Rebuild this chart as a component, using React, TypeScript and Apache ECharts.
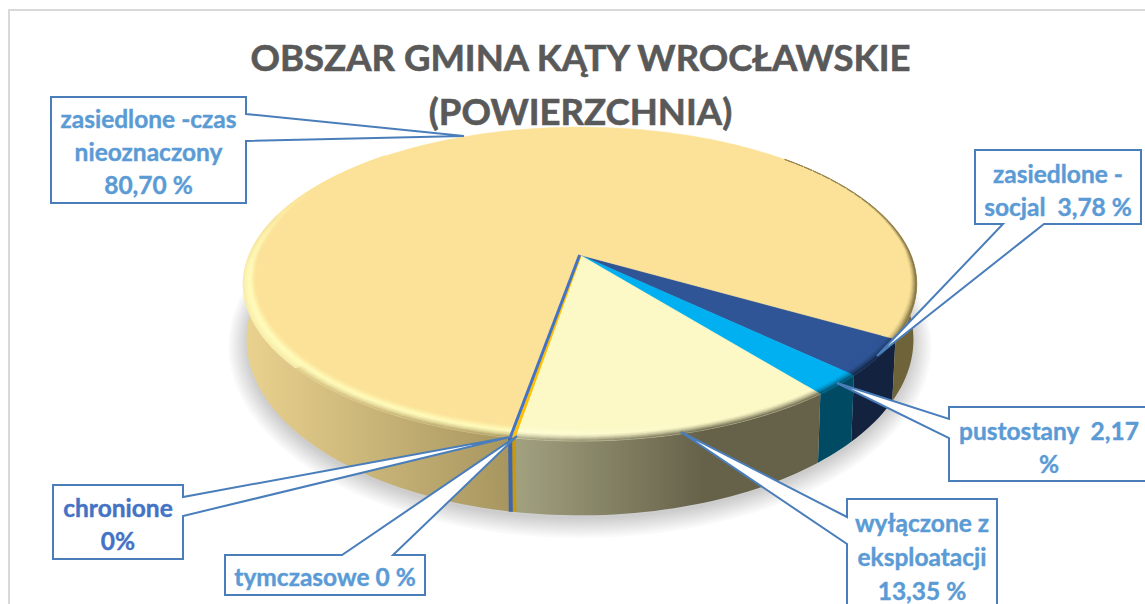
import React, { useEffect, useRef } from "react";
import * as echarts from "echarts";

// ---- data (clockwise from the first slice) ----
const categories = [
  "zasiedlone - socjal",
  "pustostany",
  "wyłączone z eksploatacji",
  "tymczasowe",
  "chronione",
  "zasiedlone - czas nieoznaczony",
];
const values = [3.78, 2.17, 13.35, 0, 0, 80.7];
const titleLines = ["OBSZAR GMINA KĄTY WROCŁAWSKIE", "(POWIERZCHNIA)"];
const calloutTexts = [
  ["zasiedlone -czas", "nieoznaczony", "80,70 %"],
  ["zasiedlone -", "socjal  3,78 %"],
  ["pustostany  2,17", "%"],
  ["wyłączone z", "eksploatacji", "13,35 %"],
  ["chronione", "0%"],
  ["tymczasowe 0 %"],
];

// ---- palette ----
const topColors = ["#2F5597", "#00B0F0", "#FCF9C7", "#FFC000", "#4472C4", "#FBE298"];
const wallFrom = ["#13233F", "#004A64", "#A3A280", "#C8980F", "#3D66AC", "#EAD28F"];
const wallTo = ["#13233F", "#004A64", "#66624A", "#C8980F", "#3D66AC", "#A6955F"];
const calloutColors = ["#5B9BD5", "#5B9BD5", "#5B9BD5", "#5B9BD5", "#4472C4", "#5B9BD5"];
const highlightColor = ["#2F5597", "#00B0F0", "#FFFFDC", "#FFC000", "#4472C4", "#FFFDBE"];

// ---- projection of the tilted disc ----
const CX = 580, CY = 255;
const P = 0.185, B = 151.6, K = 331;
const DROP = 52, SY = 1.12, SX = 0.99;
const FIRST_ANGLE = 120.2;
const FONT = "Lato, Carlito, sans-serif";

const rad = (d: number) => (d * Math.PI) / 180;
function top(theta: number, r = 1): [number, number] {
  const x = r * Math.sin(rad(theta));
  const y = -r * Math.cos(rad(theta));
  const d = 1 - P * y;
  return [CX + (K * x) / d, CY + (B * y) / d];
}
function bottom(theta: number): [number, number] {
  const [X, Y] = top(theta);
  return [CX + (X - CX) * SX, CY + DROP + (Y - CY) * SY];
}
function hexRgb(h: string) {
  return [parseInt(h.slice(1, 3), 16), parseInt(h.slice(3, 5), 16), parseInt(h.slice(5, 7), 16)];
}
function mix(a: string, b: string, t: number) {
  const A = hexRgb(a), C = hexRgb(b);
  const u = Math.max(0, Math.min(1, t));
  const v = A.map((c, i) => Math.round(c + (C[i] - c) * u));
  return "#" + v.map((c) => c.toString(16).padStart(2, "0")).join("");
}

// slice angle ranges derived from the values
const ranges: [number, number][] = [];
values.reduce((acc, v) => {
  const a = FIRST_ANGLE + acc * 3.6;
  ranges.push([a, a + v * 3.6]);
  return acc + v;
}, 0);

function arcSamples(a: number, b: number, step: number) {
  const out: number[] = [];
  const n = Math.max(1, Math.ceil((b - a) / step));
  for (let i = 0; i <= n; i++) out.push(a + ((b - a) * i) / n);
  return out;
}
function wallPolygon(a: number, b: number) {
  const s = arcSamples(a, b, 1.5);
  return [...s.map((t) => top(t)), ...s.slice().reverse().map((t) => bottom(t))];
}
function visibleRanges(i: number): [number, number][] {
  const [a, b] = ranges[i];
  if (b > 360) return [[a, 295], [425, b]];
  return [[a, b]];
}
const WALL_END = [1, 1, 0.62, 1, 1, 1];
function wallColorAt(i: number, X: number, x0: number, x1: number, theta: number) {
  if (i === 5 && (theta > 360 || theta < 120.7)) return "#6F6339";
  if (i === 5 && theta > 285) return topColors[5];
  return mix(wallFrom[i], wallTo[i], (X - x0) / ((x1 - x0) * WALL_END[i] || 1));
}

const SHADOW_LAYERS = [18, 16, 14, 12, 10, 8, 6, 4, 2, 0];
const renderShadow = () => {
  const s = arcSamples(0, 360, 3);
  const base = CY + DROP;
  return {
    type: "group",
    children: SHADOW_LAYERS.map((e) => ({
      type: "polygon",
      shape: {
        points: s.map((t) => {
          const [X, Y] = bottom(t);
          return [CX + (X - CX) * (1 + e / 330), base + (Y - base) * (1 + e / 200) + 4];
        }),
      },
      style: { fill: "rgba(0,0,0,0.018)", stroke: "none" },
    })),
  };
};

const renderWall = (params: any) => {
  const i = params.dataIndex;
  if (values[i] === 0) return { type: "group", children: [] };
  const children = visibleRanges(i).map(([a, b]) => {
    const ends = arcSamples(a, b, 2).map((t) => top(t)[0]);
    const x0 = Math.min(...ends), x1 = Math.max(...ends);
    const isRight = i === 5 && a > 360;
    const fill = isRight
      ? "#6F6339"
      : new echarts.graphic.LinearGradient(
          x0, 0, x1 + 0.01, 0,
          [
            { offset: 0, color: wallFrom[i] },
            { offset: WALL_END[i], color: wallTo[i] },
            { offset: 1, color: wallTo[i] },
          ],
          true
        );
    return {
      type: "polygon",
      shape: { points: wallPolygon(a, b) },
      style: { fill, stroke: "none" },
    };
  });
  return { type: "group", children };
};

const renderTop = (params: any) => {
  const i = params.dataIndex;
  if (values[i] === 0) return { type: "group", children: [] };
  const [a, b] = ranges[i];
  const pts = [[CX, CY], ...arcSamples(a, b, 1).map((t) => top(t))];
  return {
    type: "polygon",
    shape: { points: pts },
    style: { fill: topColors[i], stroke: topColors[i], lineWidth: 0.4 },
  };
};

const RINGS = 8;
function bevelWidth(theta: number) {
  const y = -Math.cos(rad(theta));
  if (y >= 0) return 0.03 + 0.025 * y;
  const f = Math.max(0, Math.min(1, (y + 0.75) / 0.6));
  const right = Math.sin(rad(theta)) > 0;
  return (right ? 0.024 : 0.03) * f;
}
function highlightAt(i: number, X: number) {
  if (i === 5) return X < 560 ? 0.95 : 0;
  if (i === 2) return Math.max(0, Math.min(1, (700 - X) / 180)) * 0.7;
  return 0;
}

const renderBevel = (params: any) => {
  const i = params.dataIndex;
  const children: any[] = [];
  if (values[i] === 0) return { type: "group", children };
  const vis = visibleRanges(i);
  const [ra, rb] = ranges[i];
  const pieces: [number, number][] = i === 5 ? [[ra, 340], [380, rb]] : [[ra, rb]];
  const wallX = arcSamples(vis[0][0], vis[0][1], 2).map((t) => top(t)[0]);
  const x0 = Math.min(...wallX), x1 = Math.max(...wallX);
  pieces.forEach(([a, b]) => {
    const s = arcSamples(a, b, 2.5);
    for (let k = 0; k < s.length - 1; k++) {
      const t0 = s[k], t1 = s[k + 1];
      const tm = (t0 + t1) / 2;
      const w0 = bevelWidth(t0), w1 = bevelWidth(t1), wm = bevelWidth(tm);
      if (wm <= 0.001) continue;
      const Xm = top(tm)[0];
      const side = wallColorAt(i, Xm, x0, x1, tm);
      const fadeBack = i === 5 && tm > 265 && tm < 360 ? Math.max(0, 1 - (tm - 265) / 35) : 1;
      const peak = mix(topColors[i], highlightColor[i], highlightAt(i, Xm) * fadeBack);
      const outer = i === 5 && tm > 230 && tm < 360 ? mix(peak, side, 0.35) : side;
      for (let r = 0; r < RINGS; r++) {
        const f0 = r / RINGS, f1 = (r + 1) / RINGS, f = (r + 0.5) / RINGS;
        const PEAK = 0.45;
        const color =
          f < PEAK
            ? mix(topColors[i], peak, f / PEAK)
            : mix(peak, outer, Math.pow((f - PEAK) / (1 - PEAK), 1.4));
        const pts = [
          top(t0, 1 - w0 * (1 - f0)),
          top(t1, 1 - w1 * (1 - f0)),
          top(t1, 1 - w1 * (1 - f1)),
          top(t0, 1 - w0 * (1 - f1)),
        ];
        children.push({
          type: "polygon",
          shape: { points: pts },
          style: { fill: color, stroke: color, lineWidth: 0.5 },
        });
      }
    }
  });
  return { type: "group", children };
};

// a zero-valued slice only shows its border: a stripe on the top face and on the wall
const renderZeroStripes = (params: any) => {
  const i = params.dataIndex;
  if (values[i] !== 0) return { type: "group", children: [] };
  const off = categories[i] === "tymczasowe" ? 1.8 : -1.8;
  const end = top(ranges[i][0], 1);
  const low = bottom(ranges[i][0]);
  return {
    type: "group",
    children: [
      {
        type: "line",
        shape: { x1: end[0] + off, y1: end[1], x2: low[0] + off, y2: low[1] },
        style: { stroke: wallFrom[i], lineWidth: 4 },
      },
      {
        type: "line",
        shape: { x1: CX + off * 0.2, y1: CY, x2: end[0] + off, y2: end[1] },
        style: { stroke: topColors[i], lineWidth: 3 },
      },
    ],
  };
};

// ---- callout layout: [left, top, right, bottom], wedge base points, tip ----
const calloutBoxes = [
  [51, 97, 246, 203],
  [975, 150, 1141, 224],
  [949, 407, 1160, 481],
  [847, 499, 997, 620],
  [53, 485, 183, 559],
  [225, 555, 425, 595],
];
const calloutWedges = [
  { side: "right", a: 114, b: 141, tip: [464, 136] },
  { side: "bottom", a: 1003, b: 1044, tip: [877, 356] },
  { side: "left", a: 419, b: 438, tip: [837, 383] },
  { side: "left", a: 517, b: 544, tip: [681, 432] },
  { side: "right", a: 497, b: 516, tip: [510, 437] },
  { side: "top", a: 342, b: 393, tip: [517, 436] },
];
const calloutTextY = [118, 173, 430, 522, 507, 576];
const LINE_H = [33, 33, 33, 34, 33, 33];

function calloutPoints(i: number) {
  const [l, t, r, b] = calloutBoxes[i];
  const w = calloutWedges[i];
  const tip = w.tip;
  if (w.side === "right")
    return [[l, t], [r, t], [r, w.a], tip, [r, w.b], [r, b], [l, b]];
  if (w.side === "left")
    return [[l, t], [r, t], [r, b], [l, b], [l, w.b], tip, [l, w.a]];
  if (w.side === "bottom")
    return [[l, t], [r, t], [r, b], [w.b, b], tip, [w.a, b], [l, b]];
  return [[l, t], [w.a, t], tip, [w.b, t], [r, t], [r, b], [l, b]];
}

const calloutGraphics = calloutBoxes.flatMap((box, i) => {
  const clippedRight = Math.min(box[2], 1145);
  const cx = i === 2 ? (box[0] + 1145) / 2 + 2 : (box[0] + clippedRight) / 2;
  return [
    {
      type: "polygon",
      z: 100,
      silent: true,
      shape: { points: calloutPoints(i) },
      style: { fill: "#FFFFFF", stroke: "#4A7EBB", lineWidth: 2, lineJoin: "miter" },
    },
    ...calloutTexts[i].map((line, k) => ({
      type: "text",
      z: 101,
      silent: true,
      style: {
        text: line,
        x: cx,
        y: calloutTextY[i] + k * LINE_H[i],
        fill: calloutColors[i],
        stroke: calloutColors[i],
        lineWidth: 0.4,
        font: `bold 24.5px ${FONT}`,
        textAlign: "center",
        textVerticalAlign: "middle",
      },
    })),
  ];
});

export default function App() {
  const ref = useRef<HTMLDivElement>(null);
  useEffect(() => {
    document.body.style.margin = "0";
    document.body.style.overflow = "hidden";
    const chart = echarts.init(ref.current!, undefined, { renderer: "svg" });
    const data = categories.map((name, i) => ({ name, value: values[i] }));
    chart.setOption({
      animation: false,
      backgroundColor: "#FFFFFF",
      title: {
        text: titleLines.join("\n"),
        left: 575.5,
        top: 25,
        textAlign: "center",
        textStyle: {
          color: "#595959",
          fontFamily: FONT,
          fontWeight: "bold",
          fontSize: 36.5,
          lineHeight: 54,
          textBorderColor: "#595959",
          textBorderWidth: 0.6,
        },
        z: 50,
      },
      graphic: [
        {
          type: "rect",
          z: -1,
          silent: true,
          shape: { x: 9, y: 10, width: 1300, height: 800 },
          style: { fill: "none", stroke: "#D9D9D9", lineWidth: 2 },
        },
        ...calloutGraphics,
      ],
      series: [
        { type: "custom", name: "shadow", coordinateSystem: "none", silent: true, clip: false, z: 1, data: [{ name: "shadow", value: 100 }], renderItem: renderShadow },
        { type: "custom", name: "wall", coordinateSystem: "none", silent: true, clip: false, z: 2, data, renderItem: renderWall },
        { type: "custom", name: "top", coordinateSystem: "none", silent: true, clip: false, z: 3, data, renderItem: renderTop },
        { type: "custom", name: "bevel", coordinateSystem: "none", silent: true, clip: false, z: 4, data, renderItem: renderBevel },
        { type: "custom", name: "zero", coordinateSystem: "none", silent: true, clip: false, z: 5, data, renderItem: renderZeroStripes },
      ],
    });
    return () => chart.dispose();
  }, []);
  return <div ref={ref} style={{ width: 1145, height: 604 }} />;
}
